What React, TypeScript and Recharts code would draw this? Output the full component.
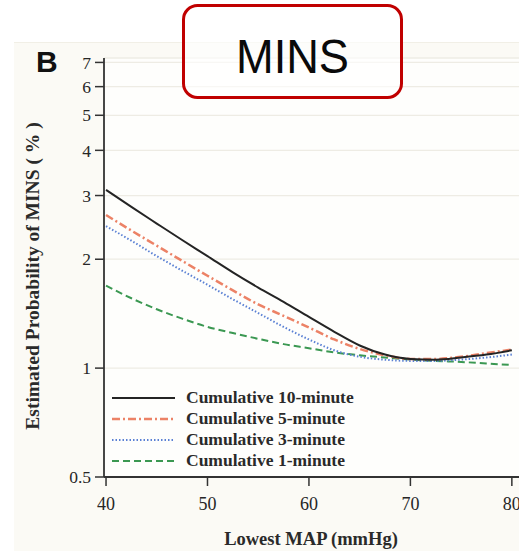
import { LineChart, Line, XAxis, YAxis, CartesianGrid, Legend, Label } from "recharts";

// lowest MAP reached (mmHg)
const mapLevels = [40, 42.5, 45, 47.5, 50, 52.5, 55, 57.5, 60, 62.5, 65, 67.5, 70, 72.5, 75, 77.5, 80];

// estimated probability of MINS (%) by cumulative duration below the MAP
const cumulative10 = [3.11, 2.79, 2.51, 2.26, 2.04, 1.84, 1.67, 1.525, 1.385, 1.26, 1.155, 1.09, 1.06, 1.055, 1.07, 1.09, 1.12];
const cumulative5 = [2.65, 2.4, 2.18, 1.98, 1.8, 1.64, 1.5, 1.395, 1.295, 1.2, 1.13, 1.085, 1.06, 1.06, 1.075, 1.1, 1.125];
const cumulative3 = [2.47, 2.25, 2.04, 1.86, 1.7, 1.55, 1.42, 1.3, 1.2, 1.12, 1.075, 1.055, 1.047, 1.047, 1.056, 1.07, 1.09];
const cumulative1 = [1.69, 1.56, 1.455, 1.37, 1.3, 1.25, 1.205, 1.165, 1.135, 1.105, 1.085, 1.07, 1.056, 1.047, 1.04, 1.03, 1.02];

const xTicks = [40, 50, 60, 70, 80];
const yTicks = [0.5, 1, 2, 3, 4, 5, 6, 7];

const series = [
  { key: "m10", name: "Cumulative 10-minute", color: "#242424", dash: undefined, width: 2 },
  { key: "m5", name: "Cumulative 5-minute", color: "#ec8266", dash: "8 3 2 3", width: 2.5 },
  { key: "m3", name: "Cumulative 3-minute", color: "#5a80d4", dash: "1.5 2", width: 2 },
  { key: "m1", name: "Cumulative 1-minute", color: "#3b9852", dash: "7 4", width: 2 },
];

const data = mapLevels.map((map, i) => ({
  map,
  m10: cumulative10[i],
  m5: cumulative5[i],
  m3: cumulative3[i],
  m1: cumulative1[i],
}));

const serif = "'Liberation Serif', 'Times New Roman', serif";
const axisColor = "#333";

function LegendRows() {
  return (
    <div style={{ fontFamily: serif, fontWeight: 700, fontSize: 17.5, color: "#2a2a2a" }}>
      {series.map((s) => (
        <div key={s.key} style={{ display: "flex", alignItems: "center", height: 21 }}>
          <svg width={64} height={6}>
            <line x1={0} y1={3} x2={63} y2={3} stroke={s.color} strokeWidth={s.width} strokeDasharray={s.dash} />
          </svg>
          <span style={{ marginLeft: 10, whiteSpace: "nowrap" }}>{s.name}</span>
        </div>
      ))}
    </div>
  );
}

export default function App() {
  return (
    <div style={{ position: "fixed", left: 0, top: 0, width: 519, height: 551, overflow: "hidden", background: "#fff" }}>
      <div style={{ position: "absolute", left: 14, top: 42, right: 0, bottom: 0, background: "#fbfaf5", borderTop: "1px solid #f1efe6" }} />
      <div style={{ position: "absolute", left: 0, top: 0 }}>
        <LineChart width={540} height={551} data={data} margin={{ top: 58, right: 18, bottom: 0, left: 0 }}>
          <CartesianGrid vertical={false} stroke="#eeece4" strokeWidth={1.3} fill="#fefefc" fillOpacity={1} />
          <XAxis
            dataKey="map"
            type="number"
            domain={[39.8, 81]}
            allowDataOverflow
            ticks={xTicks}
            height={74}
            tickSize={9}
            tickMargin={11}
            axisLine={{ stroke: axisColor, strokeWidth: 1.8 }}
            tickLine={{ stroke: axisColor, strokeWidth: 1.5 }}
            tick={{ fill: "#262626", fontSize: 18, fontFamily: serif }}
          >
            <Label
              content={() => (
                <text x={311} y={545} textAnchor="middle" fontFamily={serif} fontWeight={700} fontSize={18.5} fill="#2a2a2a">
                  Lowest MAP (mmHg)
                </text>
              )}
            />
          </XAxis>
          <YAxis
            type="number"
            scale="log"
            domain={[0.5, 7.2]}
            allowDataOverflow
            ticks={yTicks}
            interval={0}
            width={104}
            tickSize={9}
            tickMargin={4}
            axisLine={{ stroke: axisColor, strokeWidth: 1.8 }}
            tickLine={{ stroke: axisColor, strokeWidth: 1.5 }}
            tick={{ fill: "#262626", fontSize: 17.5, fontFamily: serif }}
          >
            <Label
              content={() => (
                <text
                  transform="translate(39 276) rotate(-90)"
                  textAnchor="middle"
                  fontFamily={serif}
                  fontWeight={700}
                  fontSize={19.5}
                  fill="#2a2a2a"
                >
                  Estimated Probability of MINS ( % )
                </text>
              )}
            />
          </YAxis>
          <Legend
            layout="vertical"
            align="center"
            verticalAlign="middle"
            content={() => <LegendRows />}
            wrapperStyle={{ left: 112, top: 387, width: 260, height: 84 }}
          />
          {[...series].reverse().map((s) => (
            <Line
              key={s.key}
              dataKey={s.key}
              name={s.name}
              type="monotone"
              stroke={s.color}
              strokeWidth={s.width}
              strokeDasharray={s.dash}
              dot={false}
              activeDot={false}
              isAnimationActive={false}
            />
          ))}
        </LineChart>
      </div>
      <svg width={519} height={551} style={{ position: "absolute", left: 0, top: 0, pointerEvents: "none" }}>
        <text x={36} y={72} fontFamily="'Liberation Sans', Arial, sans-serif" fontWeight={700} fontSize={30} fill="#111">
          B
        </text>
        <rect x={183.5} y={5.5} width={218} height={92} rx={14} fill="rgba(255,255,255,0.6)" stroke="#c00000" strokeWidth={3} />
        <text
          x={292.5}
          y={73}
          textAnchor="middle"
          fontFamily="'Liberation Sans', Arial, sans-serif"
          fontSize={49}
          textLength={113}
          lengthAdjust="spacingAndGlyphs"
          fill="#0a0a0a"
        >
          MINS
        </text>
      </svg>
    </div>
  );
}
